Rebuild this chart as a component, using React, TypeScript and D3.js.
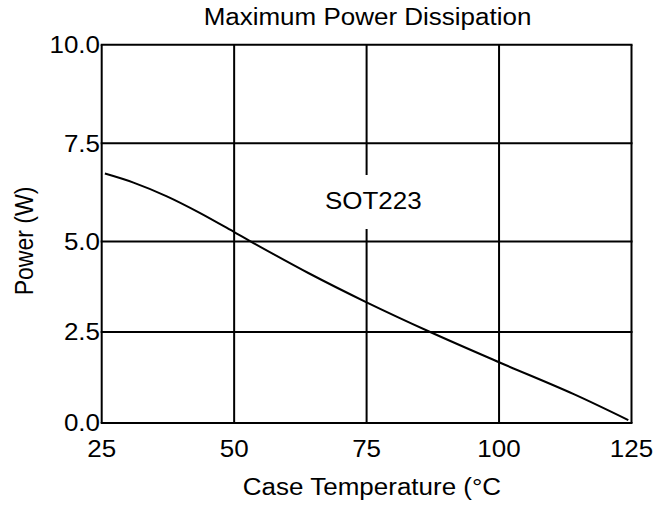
import React, { useEffect, useRef } from 'react';
import * as d3 from 'd3';

// Curve
const caseTemp = [25.6, 31, 37.3, 43.5, 50, 53, 64, 75, 87, 100, 114, 124.4];
const powerW = [6.73, 6.5, 6.15, 5.73, 5.24, 5.01, 4.13, 3.32, 2.5, 1.67, 0.8, 0.08];

const xTicks = [25, 50, 75, 100, 125];
const yTicks = [0, 2.5, 5, 7.5, 10];

const FONT = '"Liberation Sans", Arial, sans-serif';
const FS = 23;
const STRETCH = 1.13;

export default function App() {
  const svgRef = useRef<SVGSVGElement>(null);

  useEffect(() => {
    if (!svgRef.current) return;
    const svg = d3.select(svgRef.current);
    svg.selectAll('*').remove();

    const xScale = d3.scaleLinear().domain([25, 125]).range([101.7, 631.5]);
    // the printed grid is slightly uneven, so keep a piecewise scale
    const yScale = d3.scaleLinear().domain(yTicks).range([423, 332, 241.5, 143.3, 44.7]);

    const g = svg.append('g');

    // grid
    g.append('g')
      .selectAll('line')
      .data(xTicks)
      .enter()
      .append('line')
      .attr('x1', d => xScale(d))
      .attr('x2', d => xScale(d))
      .attr('y1', yScale(0))
      .attr('y2', yScale(10))
      .attr('stroke', '#000')
      .attr('stroke-width', 2);

    g.append('g')
      .selectAll('line')
      .data(yTicks)
      .enter()
      .append('line')
      .attr('x1', xScale(25) - 1)
      .attr('x2', xScale(125) + 1)
      .attr('y1', d => yScale(d))
      .attr('y2', d => yScale(d))
      .attr('stroke', '#000')
      .attr('stroke-width', 2);

    const text = (x: number, y: number, s: string, anchor = 'middle', rotate = false) => {
      const t = g.append('text')
        .attr('transform', rotate
          ? `translate(${x},${y}) scale(${STRETCH},1) rotate(-90)`
          : `translate(${x},${y}) scale(${STRETCH},1)`)
        .attr('text-anchor', anchor)
        .attr('font-family', FONT)
        .attr('font-size', FS)
        .attr('fill', '#000')
        .text(s);
      return t;
    };

    // tick labels
    yTicks.forEach(v => text(100, yScale(v) + 8.2, v.toFixed(1), 'end'));
    xTicks.forEach(v => text(xScale(v), 456.5, String(v)));

    // curve
    const line = d3.line<number>()
      .x((_, i) => xScale(caseTemp[i]))
      .y(d => yScale(d))
      .curve(d3.curveCatmullRom.alpha(0.5));

    g.append('path')
      .attr('d', line(powerW))
      .attr('fill', 'none')
      .attr('stroke', '#000')
      .attr('stroke-width', 2);

    // package label with white knock-out over the grid line
    g.append('rect')
      .attr('x', 322)
      .attr('y', 175)
      .attr('width', 104)
      .attr('height', 54)
      .attr('fill', '#fff');
    text(373.3, 209.3, 'SOT223');

    // titles
    text(367.5, 25, 'Maximum Power Dissipation');
    text(372, 495, 'Case Temperature (°C');
    text(33, 241, 'Power (W)', 'middle', true);
  }, []);

  return (
    <svg
      ref={svgRef}
      width={672}
      height={506}
      style={{ position: 'absolute', left: 0, top: 0, background: '#fff' }}
    />
  );
}
